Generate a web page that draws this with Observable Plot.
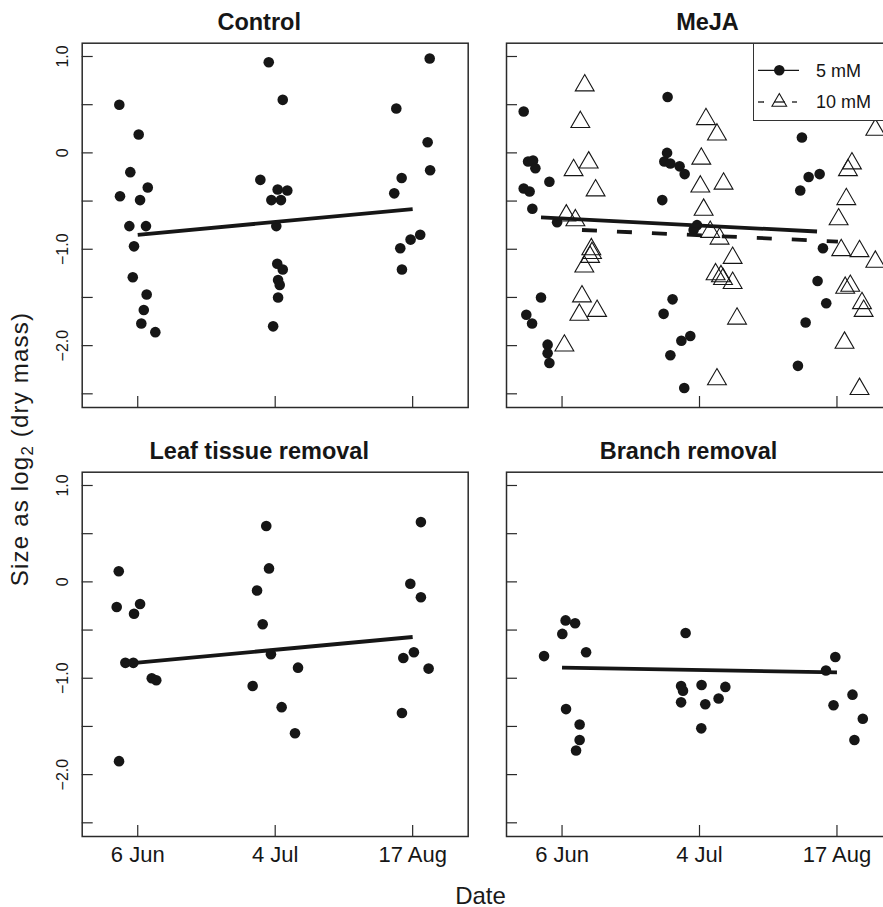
<!DOCTYPE html>
<html>
<head>
<meta charset="utf-8">
<script src="https://cdn.jsdelivr.net/npm/d3@7"></script>
<script src="https://cdn.jsdelivr.net/npm/@observablehq/plot@0.6"></script>
<style>
  html, body { margin: 0; padding: 0; background: #fff; overflow: hidden; }
  #wrap { position: relative; width: 883px; height: 907px; overflow: hidden;
          font-family: "Liberation Sans", Arial, Helvetica, sans-serif; color: #1a1a1a; background: #fff; }
  #wrap svg.plot { position: absolute; left: 0; top: 0; max-width: none !important; }
  #ylab { position: absolute; left: 20px; top: 449px; white-space: nowrap; font-size: 24px; line-height: 1;
          letter-spacing: 1.2px; transform: translate(-50%, -50%) rotate(-90deg); }
  #ylab sub { font-size: 0.7em; vertical-align: -0.3em; line-height: 0; }
  #xlab { position: absolute; left: 480.5px; top: 885.5px; font-size: 24px; line-height: 20px; height: 20px;
          transform: translateX(-50%); white-space: nowrap; }
  #legend { position: absolute; left: 752.7px; top: 42.7px; width: 200px; height: 78px; box-sizing: border-box;
            border: 1.5px solid #333; background: #fff; }
</style>
</head>
<body>
<div id="wrap">
  <div id="ylab">Size as log<sub>2</sub> (dry mass)</div>
  <div id="xlab">Date</div>
</div>
<script>
// ---------- data ----------
const panels = ["Control", "MeJA", "Leaf tissue removal", "Branch removal"];
const dateTicks = [1, 2, 3];
const dateLabels = ["6 Jun", "4 Jul", "17 Aug"];
const yTicks = [1, 0.5, 0, -0.5, -1, -1.5, -2, -2.5];
const yLabelTicks = [1, 0, -1, -2];
const yLabelText = ["1.0", "0", "\u22121.0", "\u22122.0"];
const seriesNames = ["5 mM", "10 mM"];

// [jittered date index, log2 dry mass]
const controlPts = [
  [0.866,0.50],[1.007,0.19],[0.946,-0.20],[0.871,-0.45],[1.073,-0.36],[1.017,-0.49],[0.939,-0.76],
  [1.060,-0.76],[0.973,-0.97],[0.964,-1.29],[1.065,-1.47],[1.044,-1.63],[1.026,-1.77],[1.128,-1.86],
  [1.953,0.94],[2.055,0.55],[1.892,-0.28],[2.018,-0.38],[2.088,-0.39],[1.972,-0.49],[2.042,-0.49],
  [2.008,-0.76],[2.015,-1.15],[2.055,-1.21],[2.021,-1.32],[2.033,-1.37],[2.021,-1.50],[1.985,-1.80],
  [3.124,0.98],[2.881,0.46],[3.109,0.11],[3.127,-0.18],[2.920,-0.26],[2.866,-0.42],[3.055,-0.85],
  [2.985,-0.90],[2.910,-0.99],[2.922,-1.21]
];
const meja5Pts = [
  [0.721,0.43],[0.753,-0.09],[0.789,-0.08],[0.806,-0.16],[0.908,-0.30],[0.721,-0.37],[0.764,-0.40],
  [0.784,-0.58],[0.964,-0.72],[0.847,-1.50],[0.740,-1.68],[0.782,-1.77],[0.895,-1.99],[0.895,-2.08],[0.908,-2.18],
  [1.768,0.58],[1.764,0.00],[1.744,-0.09],[1.788,-0.11],[1.855,-0.14],[1.892,-0.22],[1.729,-0.49],
  [1.982,-0.75],[1.957,-0.80],[1.804,-1.52],[1.739,-1.67],[1.933,-1.90],[1.868,-1.95],[1.788,-2.10],[1.889,-2.44],
  [2.745,0.16],[2.874,-0.22],[2.794,-0.25],[2.733,-0.39],[2.898,-0.99],[2.859,-1.33],[2.922,-1.56],
  [2.772,-1.76],[2.716,-2.21]
];
const meja10Pts = [
  [1.165,0.70],[1.133,0.32],[1.194,-0.10],[1.084,-0.18],[1.244,-0.39],[1.031,-0.65],[1.097,-0.70],
  [1.213,-1.00],[1.218,-1.04],[1.204,-1.08],[1.162,-1.18],[1.145,-1.49],[1.126,-1.68],[1.255,-1.64],[1.017,-2.00],
  [2.047,0.35],[2.127,0.19],[2.013,-0.06],[2.006,-0.35],[2.175,-0.32],[2.030,-0.59],[2.078,-0.82],
  [2.146,-0.89],[2.241,-1.09],[2.117,-1.26],[2.171,-1.31],[2.156,-1.28],[2.241,-1.35],[2.273,-1.72],[2.127,-2.35],
  [3.279,0.24],[3.109,-0.11],[3.080,-0.18],[3.068,-0.48],[3.012,-0.69],[3.031,-1.01],[3.164,-1.02],
  [3.279,-1.13],[3.060,-1.40],[3.097,-1.38],[3.182,-1.56],[3.194,-1.64],[3.055,-1.97],[3.164,-2.45]
];
const leafPts = [
  [0.862,0.11],[0.847,-0.26],[1.017,-0.23],[0.973,-0.33],[0.910,-0.84],[0.968,-0.84],[1.102,-1.00],
  [1.135,-1.02],[0.864,-1.86],
  [1.935,0.58],[1.955,0.14],[1.868,-0.09],[1.909,-0.44],[1.969,-0.75],[2.166,-0.89],[1.836,-1.08],
  [2.047,-1.30],[2.144,-1.57],
  [3.060,0.62],[2.983,-0.02],[3.060,-0.16],[3.009,-0.73],[2.932,-0.79],[3.116,-0.90],[2.922,-1.36]
];
const branchPts = [
  [0.869,-0.77],[1.002,-0.54],[1.026,-0.40],[1.095,-0.43],[1.175,-0.73],[1.029,-1.32],[1.128,-1.48],
  [1.128,-1.64],[1.102,-1.75],
  [1.899,-0.53],[1.866,-1.08],[1.880,-1.13],[1.866,-1.25],[2.015,-1.07],[2.042,-1.27],[2.139,-1.21],
  [2.188,-1.09],[2.013,-1.52],
  [2.988,-0.78],[2.920,-0.92],[3.113,-1.17],[2.975,-1.28],[3.188,-1.42],[3.127,-1.64]
];
// fitted lines: [x1, y1, x2, y2]
const controlFit = [1.0, -0.85, 3.0, -0.583];
const meja5Fit = [0.847, -0.67, 2.855, -0.816];
const meja10Fit = [1.145, -0.80, 3.007, -0.92];
const leafFit = [1.0, -0.837, 3.0, -0.572];
const branchFit = [1.0, -0.889, 3.0, -0.94];

// ---------- build tables ----------
const colOf = p => panels.indexOf(p) % 2 ? "R" : "L";
const rowOf = p => panels.indexOf(p) < 2 ? "T" : "B";
const pts = [];
const addPts = (panel, series, arr) => arr.forEach(([x, y]) => pts.push({panel, series, x, y}));
addPts(panels[0], seriesNames[0], controlPts);
addPts(panels[1], seriesNames[0], meja5Pts);
addPts(panels[1], seriesNames[1], meja10Pts);
addPts(panels[2], seriesNames[0], leafPts);
addPts(panels[3], seriesNames[0], branchPts);
const fits = [
  [panels[0], seriesNames[0], controlFit],
  [panels[1], seriesNames[0], meja5Fit],
  [panels[1], seriesNames[1], meja10Fit],
  [panels[2], seriesNames[0], leafFit],
  [panels[3], seriesNames[0], branchFit]
].map(([panel, series, [x1, y1, x2, y2]]) => ({panel, series, x1, y1, x2, y2}));

const FX = d => colOf(d.panel), FY = d => rowOf(d.panel);
const ink = "#161616";
const tickFmtY = d => yLabelText[yLabelTicks.indexOf(d)];
const titleShift = [-16, 8, -16, -11]; // horizontal nudge of each panel title (px)

const titleMarks = panels.map((name, i) =>
  Plot.text([{panel: name}], {fx: FX, fy: FY, text: "panel", frameAnchor: "top", lineAnchor: "bottom",
    dy: -13.5, dx: titleShift[i], fontSize: 23.5, fontWeight: "bold", fill: ink}));

const chart = Plot.plot({
  width: 900, height: 907,
  marginLeft: 81.7, marginRight: 8, marginTop: 42.7, marginBottom: 71,
  fx: {domain: ["L", "R"], paddingInner: 0.0903, paddingOuter: 0, round: false, axis: null, label: null},
  fy: {domain: ["T", "B"], paddingInner: 0.1508, paddingOuter: 0, round: false, axis: null, label: null},
  x: {domain: [0.596, 3.404], label: null},
  y: {domain: [-2.642, 1.138], label: null},
  style: {fontFamily: "'Liberation Sans', Arial, Helvetica, sans-serif", fontSize: "16px", color: ink,
          background: "white", maxWidth: "none", width: "900px", height: "907px"},
  marks: [
    Plot.frame({stroke: "#2a2a2a", strokeWidth: 1.5}),
    Plot.axisY({anchor: "left", ticks: yTicks, tickSize: -11, tickFormat: () => "", facetAnchor: null,
                label: null, stroke: "#2a2a2a", strokeWidth: 1.2}),
    Plot.axisY({anchor: "left", ticks: yLabelTicks, tickSize: 0, tickPadding: 14, tickRotate: -90,
                tickFormat: tickFmtY, fontSize: 16, facetAnchor: "left", label: null, fill: ink}),
    Plot.axisX({anchor: "bottom", ticks: dateTicks, tickSize: -11, tickFormat: () => "", facetAnchor: null,
                label: null, stroke: "#2a2a2a", strokeWidth: 1.2}),
    Plot.axisX({anchor: "bottom", ticks: dateTicks, tickSize: 0, tickPadding: 10,
                tickFormat: d => dateLabels[dateTicks.indexOf(d)], fontSize: 22, facetAnchor: "bottom",
                label: null, fill: ink}),
    Plot.dot(pts.filter(d => d.series === seriesNames[0]),
             {x: "x", y: "y", fx: FX, fy: FY, r: 5.3, fill: ink, stroke: "none"}),
    Plot.dot(pts.filter(d => d.series === seriesNames[1]),
             {x: "x", y: "y", fx: FX, fy: FY, r: 7, symbol: "triangle", fill: "none", stroke: ink, strokeWidth: 1.1}),
    Plot.link(fits.filter(d => d.series === seriesNames[0]),
              {x1: "x1", y1: "y1", x2: "x2", y2: "y2", fx: FX, fy: FY, stroke: ink, strokeWidth: 3.8}),
    Plot.link(fits.filter(d => d.series === seriesNames[1]),
              {x1: "x1", y1: "y1", x2: "x2", y2: "y2", fx: FX, fy: FY, stroke: ink, strokeWidth: 3.8,
               strokeDasharray: "15,20"}),
    ...titleMarks
  ]
});
chart.classList.add("plot");
const wrap = document.getElementById("wrap");
wrap.insertBefore(chart, wrap.firstChild);

// ---------- legend (MeJA panel) ----------
const legend = document.createElement("div");
legend.id = "legend";
const ls = d3.create("svg").attr("width", 140).attr("height", 78).style("position", "absolute")
  .style("left", "-1.5px").style("top", "-1.5px");
const rowsY = [28.3, 60];
ls.append("line").attr("x1", 6).attr("x2", 47).attr("y1", rowsY[0]).attr("y2", rowsY[0])
  .attr("stroke", ink).attr("stroke-width", 1.3);
ls.append("circle").attr("cx", 27.3).attr("cy", rowsY[0]).attr("r", 5.3).attr("fill", ink);
ls.append("line").attr("x1", 6).attr("x2", 12).attr("y1", rowsY[1]).attr("y2", rowsY[1])
  .attr("stroke", ink).attr("stroke-width", 1.3);
ls.append("line").attr("x1", 40).attr("x2", 45).attr("y1", rowsY[1]).attr("y2", rowsY[1])
  .attr("stroke", ink).attr("stroke-width", 1.3);
ls.append("path").attr("d", d3.symbol(d3.symbolTriangle2, Math.PI * 49)())
  .attr("transform", `translate(27.3,${rowsY[1]})`).attr("fill", "none").attr("stroke", ink).attr("stroke-width", 1.1);
ls.append("line").attr("x1", 22).attr("x2", 33).attr("y1", rowsY[1]).attr("y2", rowsY[1])
  .attr("stroke", ink).attr("stroke-width", 1.3);
seriesNames.forEach((s, i) => {
  ls.append("text").attr("x", 64).attr("y", rowsY[i] + 6.3).attr("font-size", 18)
    .attr("font-family", "'Liberation Sans', Arial, sans-serif").attr("fill", ink).text(s);
});
legend.appendChild(ls.node());
wrap.appendChild(legend);
</script>
</body>
</html>
